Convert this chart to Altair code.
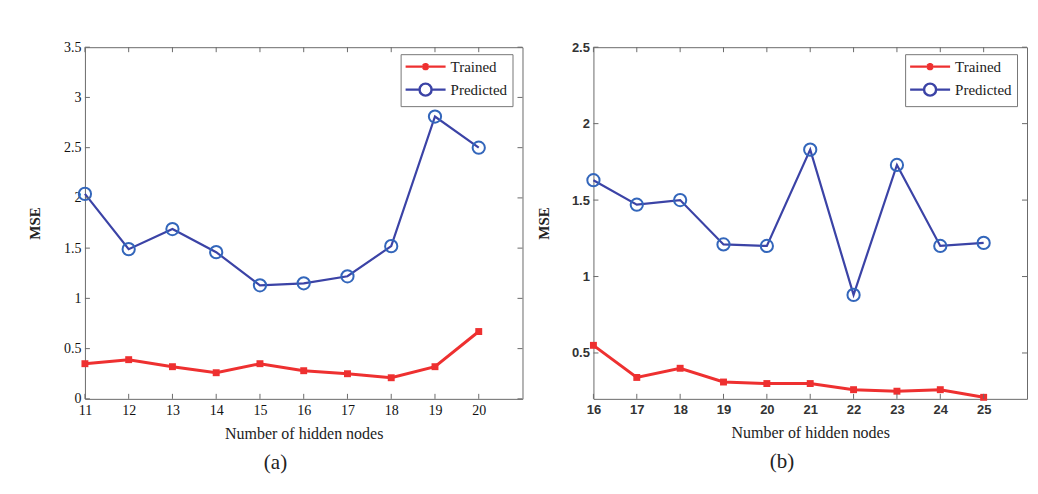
import altair as alt
import pandas as pd

# ---- data ----
left_nodes = [11, 12, 13, 14, 15, 16, 17, 18, 19, 20]
left_trained = [0.35, 0.39, 0.32, 0.26, 0.35, 0.28, 0.25, 0.21, 0.32, 0.67]
left_predicted = [2.04, 1.49, 1.69, 1.46, 1.13, 1.15, 1.22, 1.52, 2.81, 2.50]

right_nodes = [16, 17, 18, 19, 20, 21, 22, 23, 24, 25]
right_trained = [0.55, 0.34, 0.40, 0.31, 0.30, 0.30, 0.26, 0.25, 0.26, 0.21]
right_predicted = [1.63, 1.47, 1.50, 1.21, 1.20, 1.83, 0.88, 1.73, 1.20, 1.22]

left_yticks = [0, 0.5, 1, 1.5, 2, 2.5, 3, 3.5]
right_yticks = [0.5, 1, 1.5, 2, 2.5]

series_names = ["Trained", "Predicted"]

RED = "#ee3030"
BLUE_LINE = "#3b43a6"
BLUE_MARK = "#3366bb"
FRAME = "#6a6a6a"

# legend glyphs: line with marker (coords in units of 6px)
TRAINED_GLYPH = ("M-5.25,0L1.42,0"
                 "M-2.5,0L-1.33,0M-1.92,-0.6L-1.92,0.6"
                 "M-2.35,-0.45L-1.5,0.45M-2.35,0.45L-1.5,-0.45")
PRED_GLYPH = ("M-5.25,0L-2.92,0M-0.92,0L1.42,0"
              "M-2.92,0A1,1 0 1,0 -0.92,0A1,1 0 1,0 -2.92,0")


def panel(nodes, trained, predicted, xdom, ydom, yticks, w, h, sub,
          tick_font, tick_weight, tick_color, tick_size):
    df = pd.DataFrame({
        "n": nodes + nodes,
        "mse": trained + predicted,
        "series": ["Trained"] * len(nodes) + ["Predicted"] * len(nodes),
    })
    xs = alt.Scale(domain=xdom, nice=False, zero=False)
    ys = alt.Scale(domain=ydom, nice=False, zero=False)
    xax = alt.Axis(values=nodes, ticks=False, domain=False, grid=False,
                   labelFont=tick_font, labelFontWeight=tick_weight,
                   labelColor=tick_color, labelFontSize=tick_size,
                   labelPadding=5, labelFlush=False, labelOverlap=False,
                   format="d",
                   title="Number of hidden nodes", titleFont="Liberation Serif",
                   titleFontSize=16, titleFontWeight="normal", titleColor="#222",
                   titlePadding=8)
    yax = alt.Axis(values=yticks, ticks=False, domain=False, grid=False,
                   labelFont=tick_font, labelFontWeight=tick_weight,
                   labelColor=tick_color, labelFontSize=tick_size,
                   labelPadding=4, labelFlush=False, labelOverlap=False,
                   format="~g", minExtent=30, maxExtent=30,
                   title="MSE", titleFont="Liberation Serif", titleFontSize=15,
                   titleFontWeight="bold", titleColor="#222", titlePadding=12)

    base = alt.Chart(df)
    tr = base.transform_filter(alt.datum.series == "Trained")
    pr = base.transform_filter(alt.datum.series == "Predicted")

    tr_line = tr.mark_line(color=RED, strokeWidth=3).encode(
        x=alt.X("n:Q", scale=xs, axis=xax), y=alt.Y("mse:Q", scale=ys, axis=yax))
    tr_pts = tr.mark_point(shape="square", filled=True, color=RED, size=48,
                           opacity=1).encode(x="n:Q", y="mse:Q")
    pr_line = pr.mark_line(color=BLUE_LINE, strokeWidth=2.2).encode(
        x="n:Q", y="mse:Q")
    pr_pts = pr.mark_point(shape="circle", filled=False, color=BLUE_MARK,
                           strokeWidth=2, size=150, opacity=1).encode(
        x="n:Q", y="mse:Q")

    # legend carrier (no visible marks)
    leg_df = pd.DataFrame({"series": series_names})
    legend = alt.Chart(leg_df).transform_filter("false").mark_point(
        filled=False, opacity=1).encode(
        color=alt.Color("series:N",
                        scale=alt.Scale(domain=series_names, range=[RED, BLUE_LINE]),
                        legend=alt.Legend(
                            title=None, orient="none", legendX=w - 122, legendY=7,
                            strokeColor="#777", fillColor="white", padding=5,
                            labelFont="Liberation Serif", labelFontSize=15,
                            labelColor="#222", symbolSize=144,
                            symbolStrokeWidth=2.4, symbolOffset=24,
                            labelOffset=6, rowPadding=3,
                            symbolFillColor="transparent")),
        shape=alt.Shape("series:N",
                        scale=alt.Scale(domain=series_names,
                                        range=[TRAINED_GLYPH, PRED_GLYPH])),
    )

    # inside tick marks (MATLAB style) on all four sides
    xt = alt.Chart(pd.DataFrame({"t": nodes}))
    yt = alt.Chart(pd.DataFrame({"t": yticks}))
    tb = xt.mark_rule(color=FRAME, strokeWidth=1).encode(
        x="t:Q", y=alt.value(h), y2=alt.value(h - 5))
    tt = xt.mark_rule(color=FRAME, strokeWidth=1).encode(
        x="t:Q", y=alt.value(0), y2=alt.value(5))
    tl = yt.mark_rule(color=FRAME, strokeWidth=1).encode(
        y="t:Q", x=alt.value(0), x2=alt.value(5))
    tr_ = yt.mark_rule(color=FRAME, strokeWidth=1).encode(
        y="t:Q", x=alt.value(w), x2=alt.value(w - 5))

    return alt.layer(tr_line, pr_line, tr_pts, pr_pts, tb, tt, tl, tr_,
                     legend).properties(
        width=w, height=h,
        title=alt.TitleParams(sub, orient="bottom", anchor="middle",
                              frame="bounds", font="Liberation Serif",
                              fontSize=21, fontWeight="normal", color="#222",
                              offset=10),
    )


left = panel(left_nodes, left_trained, left_predicted, [11, 21], [0, 3.5],
             left_yticks, 438, 352, "(a)", "Liberation Serif", "normal",
             "#111", 14)
right = panel(right_nodes, right_trained, right_predicted, [16, 26], [0.2, 2.5],
              right_yticks, 434, 352, "(b)", "Liberation Sans", "bold",
              "#333", 13)

chart = alt.hconcat(left, right, spacing=12).resolve_scale(
    color="independent", shape="independent", x="independent",
    y="independent").properties(
    padding={"left": 19, "top": 31, "right": 2, "bottom": 2},
    background="white",
).configure_view(stroke=FRAME, strokeWidth=1).configure_concat(spacing=12)

chart.save("out.html", embed_options={"renderer": "svg", "actions": False})
